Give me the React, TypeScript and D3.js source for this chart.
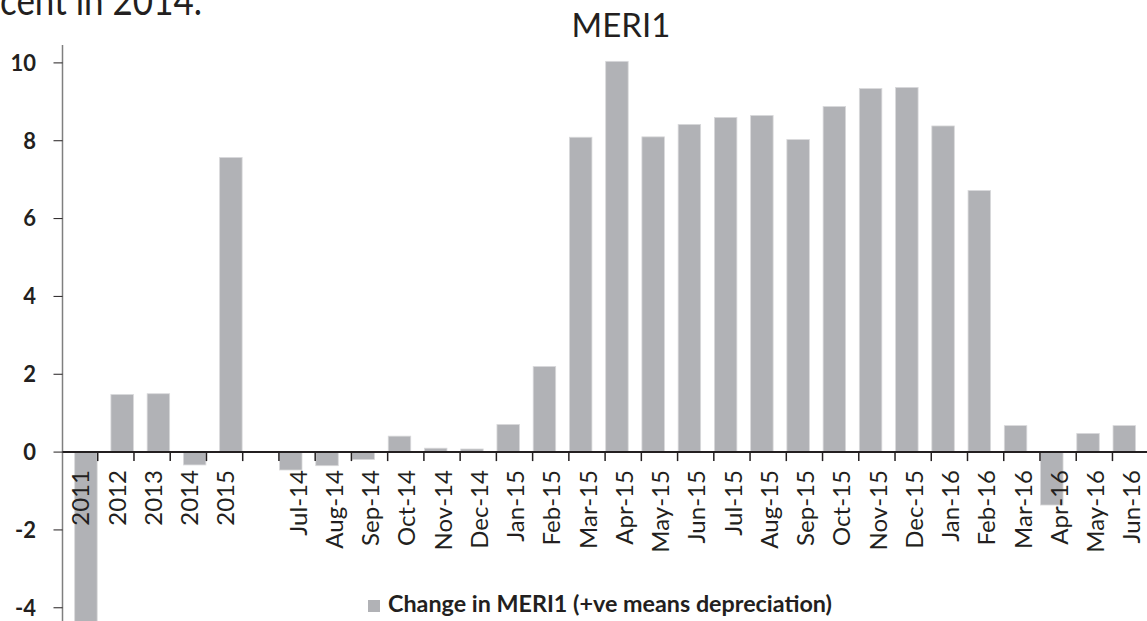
import React from "react";
import * as d3 from "d3";

const yearLabels = ["2011", "2012", "2013", "2014", "2015"];
const yearValues = [-4.6, 1.48, 1.5, -0.33, 7.57];
const gapLabel = [""];
const monthLabels = [
  "Jul-14", "Aug-14", "Sep-14", "Oct-14", "Nov-14", "Dec-14",
  "Jan-15", "Feb-15", "Mar-15", "Apr-15", "May-15", "Jun-15",
  "Jul-15", "Aug-15", "Sep-15", "Oct-15", "Nov-15", "Dec-15",
  "Jan-16", "Feb-16", "Mar-16", "Apr-16", "May-16", "Jun-16",
];
const monthValues = [
  -0.46, -0.35, -0.19, 0.41, 0.1, 0.08,
  0.71, 2.2, 8.09, 10.04, 8.1, 8.42,
  8.6, 8.65, 8.03, 8.88, 9.34, 9.37,
  8.38, 6.72, 0.68, -1.36, 0.48, 0.68,
];
const yTicks = [-4, -2, 0, 2, 4, 6, 8, 10];
const seriesNames = ["monthly", "annual"];
const titleText = "MERI1";
const legendText = "Change in MERI1 (+ve means depreciation)";
const topText = "cent in 2014.";

const W = 1147;
const H = 621;
const BAR = "#b1b2b6";
const FONT = "Lato, 'Open Sans', sans-serif";

export default function App() {
  const categories = [...yearLabels, ...gapLabel, ...monthLabels];
  const keys = categories.map((c, i) => `${i}|${c}`);
  const bars = [
    ...yearLabels.map((c, i) => ({ key: keys[i], label: c, value: yearValues[i], series: "annual" })),
    ...monthLabels.map((c, i) => ({
      key: keys[yearLabels.length + gapLabel.length + i],
      label: c,
      value: monthValues[i],
      series: "monthly",
    })),
  ];

  const x = d3.scaleBand<string>().domain(keys).range([61.5, 1148.7]).padding(0);
  const y = d3.scaleLinear().domain([-4.34, 10.46]).range([H, 45]);
  const bw = x.bandwidth();
  const sub = d3.scalePoint<string>().domain(seriesNames).range([-6.3, 6.3]);
  const barW = 22.5;
  const y0 = y(0);
  const axisX = x.range()[0] + 1;

  const boundaries = [...keys.slice(1).map((k) => x(k)!), x.range()[1]];

  return (
    <div style={{ position: "absolute", left: 0, top: 0 }}>
      <svg width={W} height={H} style={{ display: "block", background: "#fff" }} fontFamily={FONT}>
        <rect x={0} y={0} width={W} height={H} fill="#fff" />
        {/* clipped heading from previous text */}
        <text
          x={0}
          y={15}
          fontSize={40}
          fill="#231f20"
          textLength={202}
          lengthAdjust="spacingAndGlyphs"
        >
          {topText}
        </text>
        {/* title */}
        <text x={621} y={37} textAnchor="middle" fontSize={33} fill="#231f20">
          {titleText}
        </text>
        {/* bars */}
        {bars.map((b) => {
          const cx = x(b.key)! + bw / 2 + sub(b.series)!;
          const top = Math.min(y(b.value), y0);
          const h = Math.abs(y(b.value) - y0);
          return (
            <rect
              key={b.key}
              x={cx - barW / 2}
              y={top}
              width={barW}
              height={h}
              fill={BAR}
              stroke="#d9d9db"
              strokeWidth={0.8}
            />
          );
        })}
        {/* y axis */}
        <line x1={axisX} x2={axisX} y1={45} y2={H} stroke="#7f7f7f" strokeWidth={1.5} />
        {yTicks.map((t) => (
          <g key={t}>
            <line x1={axisX - 9} x2={axisX} y1={y(t)} y2={y(t)} stroke="#231f20" strokeWidth={1} />
            <text
              x={36}
              y={y(t)}
              dy="0.36em"
              textAnchor="end"
              fontSize={22}
              fontWeight="bold"
              fill="#231f20"
            >
              {t}
            </text>
          </g>
        ))}
        {/* x axis at zero */}
        <line x1={axisX} x2={W} y1={y0} y2={y0} stroke="#231f20" strokeWidth={2} />
        {boundaries.map((bx, i) => (
          <line key={i} x1={bx} x2={bx} y1={y0} y2={y0 + 9} stroke="#231f20" strokeWidth={1.5} />
        ))}
        {/* x labels */}
        {keys.map((k, i) => (
          <text
            key={k}
            transform={`translate(${x(k)! + bw / 2 + 1},${y0 + 18}) rotate(-90)`}
            textAnchor="end"
            dy="0.36em"
            fontSize={24}
            fill="#231f20"
          >
            {categories[i]}
          </text>
        ))}
        {/* legend */}
        <rect x={368} y={600} width={12} height={12} fill={BAR} />
        <text
          x={388}
          y={612}
          fontSize={23}
          fontWeight="bold"
          fill="#231f20"
          textLength={444}
          lengthAdjust="spacingAndGlyphs"
        >
          {legendText}
        </text>
      </svg>
    </div>
  );
}
